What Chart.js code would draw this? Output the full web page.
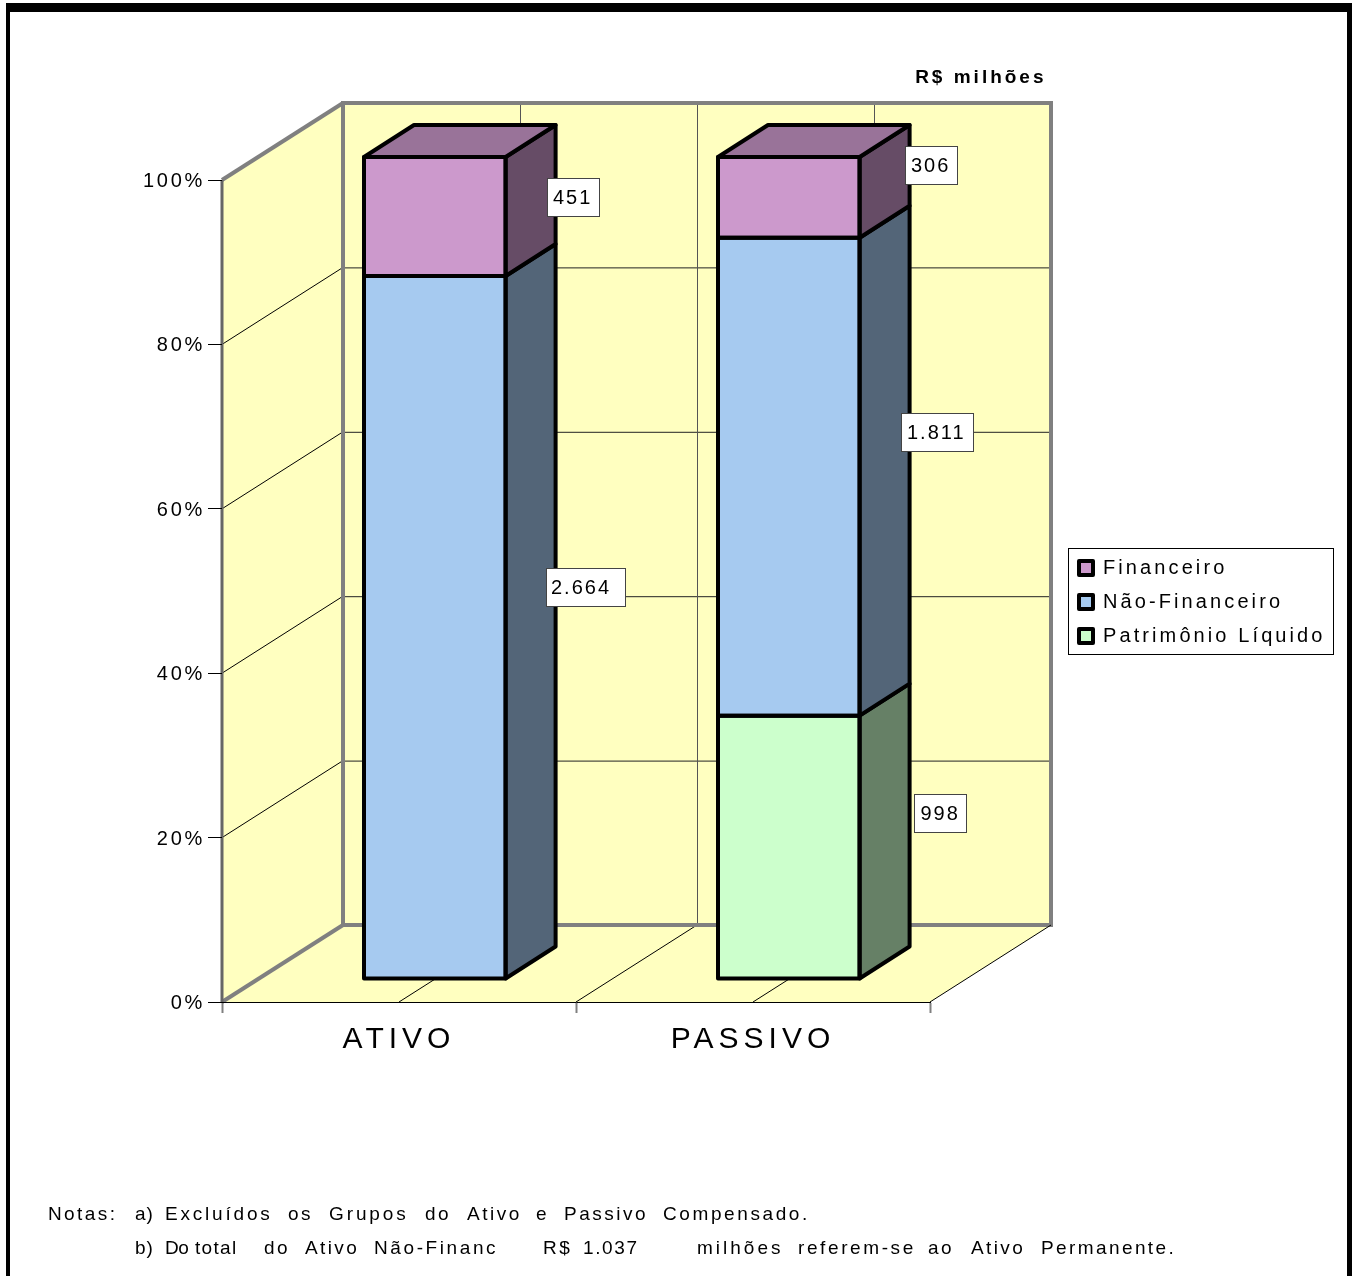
<!DOCTYPE html>
<html><head><meta charset="utf-8">
<style>html,body{margin:0;padding:0;background:#fff}canvas{display:block}</style>
<script src="https://cdn.jsdelivr.net/npm/chart.js@4/dist/chart.umd.min.js"></script>
</head><body>
<canvas id="c" width="1353" height="1276" style="width:1353px;height:1276px"></canvas>
<script>
const categories = ['ATIVO', 'PASSIVO'];
const patrimonioLiquido = [0, 998];
const naoFinanceiro = [2664, 1811];
const financeiro = [451, 306];
const labelTexts = {fin: ['451', '306'], nf: ['2.664', '1.811'], pl: ['', '998']};
const tickValues = [0, 20, 40, 60, 80, 100];

const FONT = '"Liberation Sans", Arial, sans-serif';
const DX = 121, DY = 77;           // depth of the 3D box
const BAR_SHIFT_X = 35.8, BAR_SHIFT_Y = -23; // bars stand inside the depth
const BAR_DX = 50, BAR_DY = 32;    // depth of each bar
const totals = categories.map((_, i) => patrimonioLiquido[i] + naoFinanceiro[i] + financeiro[i]);
const pct = arr => arr.map((v, i) => v / totals[i] * 100);

const noteWords = [
  [1215, [['Notas:',48,2.4],['a)',135,1],['Excluídos',165,2.8],['os',288,2.5],['Grupos',329,2.9],['do',425,2.5],['Ativo',467,2.5],['e',536,2.5],['Passivo',564,2.5],['Compensado.',663,2.6]]],
  [1249, [['b)',135,1],['Do',165,-0.5],['total',195,1.3],['do',264,2.4],['Ativo',305,2.4],['Não-Financ',374,2.6],['R$',543,2.5],['1.037',583,1.6],['milhões',697,3],['referem-se',798,2.6],['ao',928,2.4],['Ativo',971,2.4],['Permanente.',1041,2.4]]]
];
// label box: dataset index, category index, box left, box width, centre offset from segment middle, text inset
const labelBoxes = [
  {ds: 2, i: 0, x: 547, w: 52, dy: -20, pad: 6, t: labelTexts.fin[0]},
  {ds: 1, i: 0, x: 546, w: 79, dy: -40, pad: 5, t: labelTexts.nf[0]},
  {ds: 2, i: 1, x: 905, w: 52, dy: -32, pad: 6, t: labelTexts.fin[1]},
  {ds: 1, i: 1, x: 901, w: 72, dy: -45, pad: 6, t: labelTexts.nf[1]},
  {ds: 0, i: 1, x: 914, w: 52, dy: -34, pad: 6.5, t: labelTexts.pl[1]}
];

const sideColors = ['#668066', '#536578', '#664C66'];
const topColor = '#997399';
const LEGEND_SPACING = '3.1px', Y_SPACING = '2.7px', X_SPACING = '5px';

function poly(ctx, pts, fill, stroke, lw) {
  ctx.beginPath();
  pts.forEach((p, i) => i ? ctx.lineTo(p[0], p[1]) : ctx.moveTo(p[0], p[1]));
  ctx.closePath();
  if (fill) { ctx.fillStyle = fill; ctx.fill(); }
  if (stroke) { ctx.strokeStyle = stroke; ctx.lineWidth = lw; ctx.stroke(); }
}
function line(ctx, x1, y1, x2, y2, color, lw) {
  ctx.beginPath(); ctx.moveTo(x1, y1); ctx.lineTo(x2, y2);
  ctx.strokeStyle = color; ctx.lineWidth = lw; ctx.stroke();
}
function spaced(scale, spacing) {
  if (scale._spacedWrap) return;
  scale._spacedWrap = true;
  const orig = scale.drawLabels;
  scale.drawLabels = function (area) {
    const c = this.ctx, prev = c.letterSpacing;
    c.letterSpacing = spacing;
    orig.call(this, area);
    c.letterSpacing = prev;
  };
}

const scene = {
  id: 'scene',
  afterLayout(chart) {
    const l = chart.legend;
    l.left = 1065; l.top = 544; l.right = 1340; l.bottom = 900;
    l.width = 275; l.height = 356;
    spaced(chart.scales.x, X_SPACING);
    spaced(chart.scales.y, Y_SPACING);
  },
  beforeDraw(chart) {
    const ctx = chart.ctx, x = chart.scales.x, y = chart.scales.y;
    ctx.letterSpacing = LEGEND_SPACING;
    ctx.save();
    ctx.fillStyle = '#fff'; ctx.fillRect(0, 0, 1353, 1276);
    // page frame
    ctx.fillStyle = '#000';
    ctx.fillRect(6, 3, 1346, 9);
    ctx.fillRect(6, 3, 4, 1273);
    ctx.fillRect(1347, 3, 5, 1273);
    // title
    ctx.font = 'bold 19px ' + FONT; ctx.letterSpacing = '3px';
    ctx.textAlign = 'right'; ctx.textBaseline = 'middle';
    ctx.fillText('R$ milhões', 1046.5, 77.5);
    // notes
    ctx.font = '19px ' + FONT; ctx.textAlign = 'left';
    noteWords.forEach(([ny, words]) => words.forEach(([w, wx, sp]) => {
      ctx.letterSpacing = sp + 'px';
      ctx.fillText(w, wx, ny);
    }));
    ctx.letterSpacing = LEGEND_SPACING;
    // legend frame
    ctx.fillStyle = '#fff'; ctx.fillRect(1068, 548, 265, 106);
    ctx.strokeStyle = '#000'; ctx.lineWidth = 1; ctx.strokeRect(1068.5, 548.5, 265, 106);

    const L = x.left, R = x.right, Y0 = y.getPixelForValue(0), Y1 = y.getPixelForValue(100);
    const wall = '#FFFFC0', gray = '#808080';
    poly(ctx, [[L + DX, Y1 - DY], [R + DX, Y1 - DY], [R + DX, Y0 - DY], [L + DX, Y0 - DY]], wall);
    poly(ctx, [[L, Y1], [L + DX, Y1 - DY], [L + DX, Y0 - DY], [L, Y0]], wall);
    poly(ctx, [[L, Y0], [L + DX, Y0 - DY], [R + DX, Y0 - DY], [R, Y0]], wall);
    // gridlines
    tickValues.slice(1, -1).forEach(v => {
      const p = y.getPixelForValue(v);
      line(ctx, L, p, L + DX, p - DY, '#000', 1);
      line(ctx, L + DX, p - DY + 0.5, R + DX, p - DY + 0.5, '#222', 1);
    });
    const mids = [x.getPixelForValue(0), (x.getPixelForValue(0) + x.getPixelForValue(1)) / 2, x.getPixelForValue(1)];
    mids.forEach(m => {
      line(ctx, m, Y0, m + DX, Y0 - DY, '#000', 1);
      line(ctx, m + DX + 0.5, Y0 - DY, m + DX + 0.5, Y1 - DY, '#555', 1);
    });
    // box edges
    ctx.lineJoin = 'miter';
    poly(ctx, [[L + DX, Y1 - DY], [R + DX, Y1 - DY], [R + DX, Y0 - DY], [L + DX, Y0 - DY]], null, gray, 4);
    line(ctx, L, Y1, L + DX, Y1 - DY, gray, 4);
    line(ctx, L, Y0, L + DX, Y0 - DY, gray, 4);
    line(ctx, R, Y0, R + DX, Y0 - DY, '#000', 1);
    line(ctx, L, Y1, L, Y0, '#666', 3);
    ctx.restore();
  },
  beforeDatasetsDraw(chart) {
    chart.ctx.save();
    chart.ctx.translate(BAR_SHIFT_X, BAR_SHIFT_Y);
  },
  afterDatasetsDraw(chart) {
    const ctx = chart.ctx;
    const rects = [];
    chart.data.datasets.forEach((d, di) => {
      chart.getDatasetMeta(di).data.forEach((b, i) => {
        const p = b.getProps(['x', 'y', 'base', 'width'], true);
        if (d.data[i] > 0) rects.push({di, i, l: p.x - p.width / 2, r: p.x + p.width / 2, t: p.y, b: p.base});
      });
    });
    ctx.lineJoin = 'round';
    rects.forEach(q => {
      poly(ctx, [[q.r, q.b], [q.r + BAR_DX, q.b - BAR_DY], [q.r + BAR_DX, q.t - BAR_DY], [q.r, q.t]], sideColors[q.di], '#000', 4);
    });
    rects.forEach(q => {
      if (q.di === 2) poly(ctx, [[q.l, q.t], [q.l + BAR_DX, q.t - BAR_DY], [q.r + BAR_DX, q.t - BAR_DY], [q.r, q.t]], topColor, '#000', 4);
      ctx.strokeStyle = '#000'; ctx.lineWidth = 4;
      ctx.strokeRect(q.l, q.t, q.r - q.l, q.b - q.t);
    });
    ctx.restore();
    // value labels
    ctx.save();
    ctx.font = '20px ' + FONT; ctx.letterSpacing = '2px';
    ctx.textAlign = 'left'; ctx.textBaseline = 'middle';
    labelBoxes.forEach(o => {
      const b = chart.getDatasetMeta(o.ds).data[o.i].getProps(['y', 'base'], true);
      const my = (b.y + b.base) / 2 + BAR_SHIFT_Y + o.dy;
      const h = 38;
      const ry = Math.round(my - h / 2);
      ctx.fillStyle = '#fff'; ctx.fillRect(o.x, ry, o.w, h);
      ctx.strokeStyle = '#444'; ctx.lineWidth = 1; ctx.strokeRect(o.x + 0.5, ry + 0.5, o.w, h);
      ctx.fillStyle = '#000';
      ctx.fillText(o.t, o.x + o.pad, ry + h / 2 + 1.5);
    });
    ctx.restore();
  }
};

const cv = document.getElementById('c');
const ctx0 = cv.getContext('2d');

new Chart(ctx0, {
  type: 'bar',
  data: {
    labels: categories,
    datasets: [
      {label: 'Patrimônio Líquido', data: pct(patrimonioLiquido), backgroundColor: '#CCFFCC', borderWidth: 0},
      {label: 'Não-Financeiro', data: pct(naoFinanceiro), backgroundColor: '#A6CAF0', borderWidth: 0},
      {label: 'Financeiro', data: pct(financeiro), backgroundColor: '#CC99CC', borderWidth: 0}
    ]
  },
  plugins: [scene],
  options: {
    responsive: false,
    animation: false,
    devicePixelRatio: 1,
    layout: {padding: {top: 180, right: 423, bottom: 0, left: 0}},
    datasets: {bar: {categoryPercentage: 1, barPercentage: 0.4}},
    scales: {
      x: {
        stacked: true,
        afterFit(s) { s.height = 274; },
        grid: {display: true, drawOnChartArea: false, drawTicks: true, tickLength: 11, tickColor: '#808080', tickWidth: 2, offset: true},
        border: {display: true, color: '#000', width: 1},
        ticks: {autoSkip: false, maxRotation: 0, padding: 9, color: '#000', font: {family: FONT, size: 30}}
      },
      y: {
        stacked: true, min: 0, max: 100,
        afterFit(s) { s.width = 222; },
        grid: {display: true, drawOnChartArea: false, drawTicks: true, tickLength: 14, tickColor: '#000', tickWidth: 1},
        border: {display: false},
        afterBuildTicks(s) { s.ticks = tickValues.map(v => ({value: v})); },
        ticks: {padding: 3, labelOffset: 1.5, color: '#000', font: {family: FONT, size: 20}, callback: v => v + '%'}
      }
    },
    plugins: {
      title: {display: false},
      tooltip: {enabled: false},
      legend: {
        position: 'chartArea', align: 'start', reverse: true,
        labels: {
          color: '#000', boxWidth: 14, boxHeight: 14, padding: 14,
          font: {family: FONT, size: 20, lineHeight: 1.08},
          generateLabels(chart) {
            return Chart.defaults.plugins.legend.labels.generateLabels(chart).map(it => Object.assign(it, {strokeStyle: '#000', lineWidth: 4, lineJoin: 'round'}));
          }
        }
      }
    }
  }
});
</script>
</body></html>
